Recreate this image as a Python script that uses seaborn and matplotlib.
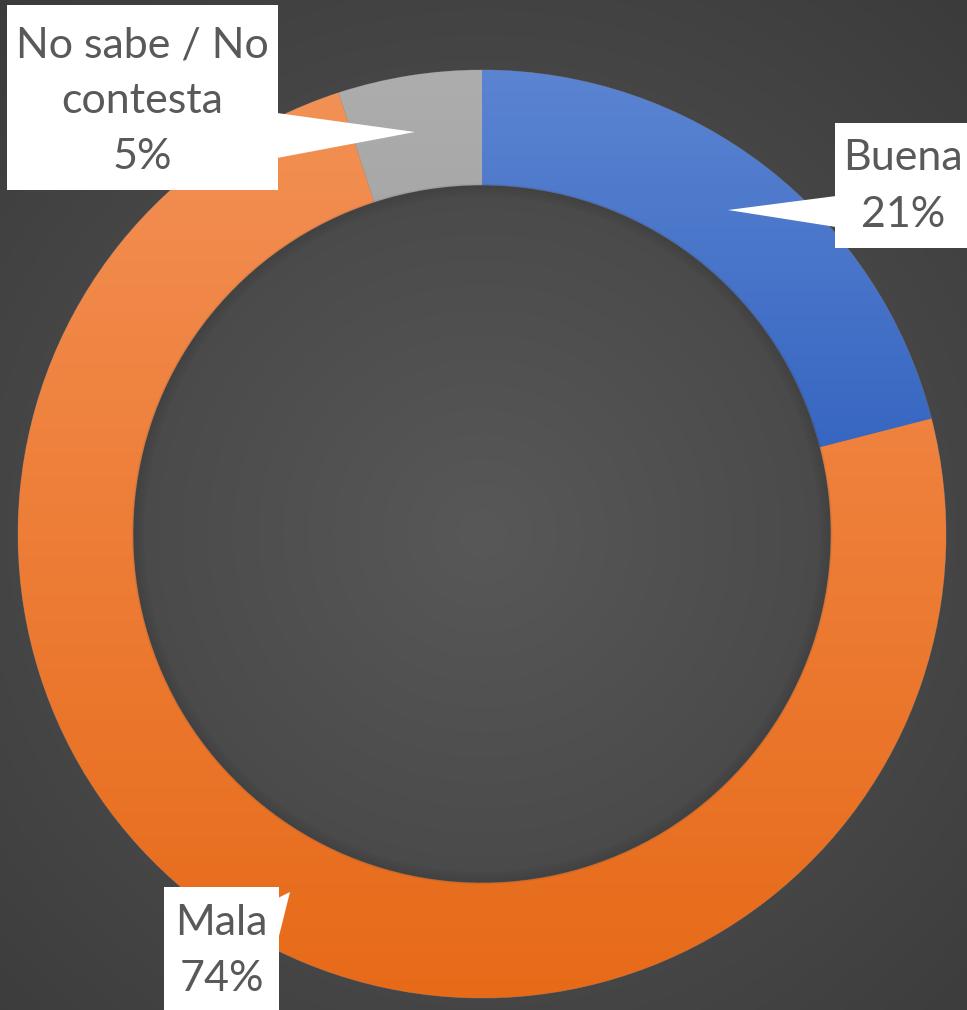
import numpy as np
import matplotlib
matplotlib.use("Agg")
import matplotlib.pyplot as plt
import seaborn as sns
from matplotlib.patches import Polygon, Rectangle
from matplotlib.colors import to_rgb

categories = ["Buena", "Mala", "No sabe / No\ncontesta"]
values = [21, 74, 5]
labels_pct = ["21%", "74%", "5%"]
colors_top = ["#5b84d2", "#f39055", "#adadad"]
colors_bot = ["#2f60be", "#e76a18", "#9a9a9a"]

sns.set_theme(style="white")
plt.rcParams['font.family'] = ['Lato', 'DejaVu Sans']

W, H = 967, 1010
fig = plt.figure(figsize=(W / 100, H / 100), dpi=100)
ax = fig.add_axes([0, 0, 1, 1])

# radial background
yy, xx = np.mgrid[0:H, 0:W]
d = np.sqrt((xx - 482) ** 2 + (yy - 476) ** 2) / 700
bg = np.clip(0.345 - 0.11 * d, 0.22, 0.35)
ax.imshow(np.dstack([bg, bg, bg]), extent=[0, W, 0, H], origin="lower", zorder=0)

cx, cy, R = 482, 476, 464
wedges, _ = ax.pie(values, center=(cx, cy), radius=R, startangle=90, counterclock=False,
                   colors=colors_top, wedgeprops=dict(width=R * 0.248, linewidth=0.6,
                                                      edgecolor="#666666"),
                   frame=True)
ax.set_xlim(0, W)
ax.set_ylim(0, H)
ax.set_aspect("auto")
ax.axis("off")

for w, ct, cb in zip(wedges, colors_top, colors_bot):
    verts = w.get_patch_transform().transform(w.get_path().vertices)
    x0, y0 = verts.min(axis=0)
    x1, y1 = verts.max(axis=0)
    t = np.linspace(0, 1, 256)[:, None]
    c1 = np.array(to_rgb(ct)); c2 = np.array(to_rgb(cb))
    grad = (c1[None, None, :] * (1 - t[..., None]) + c2[None, None, :] * t[..., None])
    grad = np.repeat(grad, 2, axis=1)
    im = ax.imshow(grad, extent=[x0, x1, y0, y1], origin="upper",
                   zorder=w.get_zorder() + 0.1, aspect="auto")
    im.set_clip_path(w)
ax.set_xlim(0, W)
ax.set_ylim(0, H)

# subtle inner shadow
r_in = R * 0.752
for k in range(8):
    circ = plt.Circle((cx, cy), r_in - k * 1.5, fill=False, lw=2, color="black",
                      alpha=0.06 * (1 - k / 8), zorder=3)
    ax.add_patch(circ)

def Y(p):
    return H - p

txtc = "#595959"
fs = 31

def callout(box, tri, lines, ys, xc=None):
    x0, y0, x1, y1 = box
    ax.add_patch(Rectangle((x0, Y(y1)), x1 - x0, y1 - y0, facecolor="white",
                           edgecolor="none", zorder=5))
    ax.add_patch(Polygon([(px, Y(py)) for px, py in tri], closed=True,
                         facecolor="white", edgecolor="none", zorder=5))
    if xc is None:
        xc = (x0 + x1) / 2
    for s, yv in zip(lines, ys):
        ax.text(xc, Y(yv), s, ha="center", va="center", fontsize=fs, color=txtc, zorder=6)

callout((7, 5, 278, 190), [(277, 113), (415, 132), (277, 158)],
        ["No sabe / No", "contesta", labels_pct[2]], [45, 101, 157])
callout((835, 123, 990, 248), [(836, 196), (728, 210), (836, 227)],
        [categories[0], labels_pct[0]], [158, 215], xc=903)
callout((164, 887, 279, 1030), [(278, 898), (290, 892), (278, 940)],
        [categories[1], labels_pct[1]], [923, 979])

fig.savefig("out.png", dpi=100)
